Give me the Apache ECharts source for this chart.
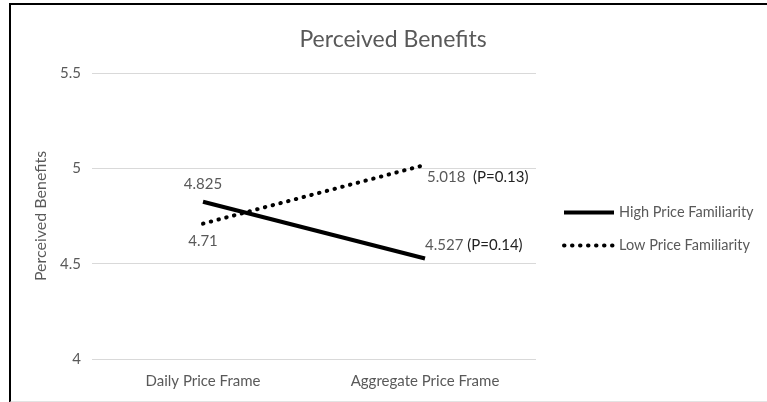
<!DOCTYPE html>
<html>
<head>
<meta charset="utf-8">
<script src="https://cdn.jsdelivr.net/npm/echarts@6/dist/echarts.min.js"></script>
<style>
  body { margin: 0; background: #fff; }
  #main { position: absolute; left: 0; top: 0; width: 767px; height: 402px; }
  #frame { position: absolute; left: 9px; top: 3px; width: 758px; height: 396px;
           border-top: 2px solid #000; border-left: 2px solid #000; border-bottom: 2px solid #e3e3e3;
           pointer-events: none; }
</style>
</head>
<body>
<div id="main"></div>
<div id="frame"></div>
<script>
var categories = ['Daily Price Frame', 'Aggregate Price Frame'];
var highValues = [4.825, 4.527];
var lowValues = [4.71, 5.018];
var highNotes = ['', ' (P=0.14)'];
var lowNotes = ['', '  (P=0.13)'];
var yTicks = [4, 4.5, 5, 5.5];

var font = 'Lato, "Open Sans", sans-serif';

function buildData(values, notes, first, last) {
    var out = [];
    for (var i = 0; i < values.length; i++) {
        var item = { value: values[i], note: notes[i] };
        item.label = i == 0 ? first : last;
        out.push(item);
    }
    return out;
}

function fmt(p) {
    var s = '{v|' + p.value + '}';
    if (p.data.note) s += '{p|' + p.data.note + '}';
    return s;
}

var richText = {
    v: { color: '#595959', fontSize: 15, fontFamily: font },
    p: { color: '#222', fontSize: 15, fontFamily: font }
};

var option = {
    animation: false,
    title: {
        text: 'Perceived Benefits',
        left: 388,
        textAlign: 'center',
        top: 23,
        textStyle: { color: '#595959', fontSize: 23, fontWeight: 'normal', fontFamily: font }
    },
    legend: {
        orient: 'vertical',
        left: 557,
        top: 200,
        itemWidth: 50,
        itemHeight: 14,
        itemGap: 18,
        textStyle: { color: '#595959', fontSize: 14.5, fontFamily: font },
        itemStyle: { opacity: 0 },
        lineStyle: { width: 4 },
        data: ['High Price Familiarity', 'Low Price Familiarity']
    },
    grid: { left: 92, right: 231, top: 73, bottom: 43 },
    xAxis: {
        type: 'category',
        data: categories,
        axisLine: { show: false },
        axisTick: { show: false },
        axisLabel: { color: '#595959', fontSize: 15, fontFamily: font, margin: 15 }
    },
    yAxis: {
        type: 'value',
        min: yTicks[0],
        max: yTicks[yTicks.length - 1],
        interval: 0.5,
        name: 'Perceived Benefits',
        nameLocation: 'middle',
        nameGap: 38,
        nameTextStyle: { color: '#595959', fontSize: 16, fontFamily: font },
        axisLine: { show: false },
        axisTick: { show: false },
        axisLabel: { color: '#595959', fontSize: 15, fontFamily: font, margin: 11 },
        splitLine: { lineStyle: { color: '#d9d9d9', width: 1 } }
    },
    series: [
        {
            name: 'High Price Familiarity',
            type: 'line',
            symbol: 'circle',
            symbolSize: 0.1,
            lineStyle: { color: '#000', width: 4 },
            itemStyle: { color: '#000' },
            data: buildData(highValues, highNotes,
                { show: true, position: 'top', distance: 10, formatter: fmt, rich: richText },
                { show: true, position: 'right', distance: 0, offset: [0, -13], formatter: fmt, rich: richText })
        },
        {
            name: 'Low Price Familiarity',
            type: 'line',
            symbol: 'circle',
            symbolSize: 0.1,
            lineStyle: { color: '#000', width: 4, type: [0.5, 7.5], cap: 'round' },
            itemStyle: { color: '#000' },
            data: buildData(lowValues, lowNotes,
                { show: true, position: 'bottom', distance: 10, formatter: fmt, rich: richText },
                { show: true, position: 'right', distance: 2, offset: [0, 12], formatter: fmt, rich: richText })
        }
    ]
};

var myChart = echarts.init(document.getElementById('main'));
myChart.setOption(option);
</script>
</body>
</html>
